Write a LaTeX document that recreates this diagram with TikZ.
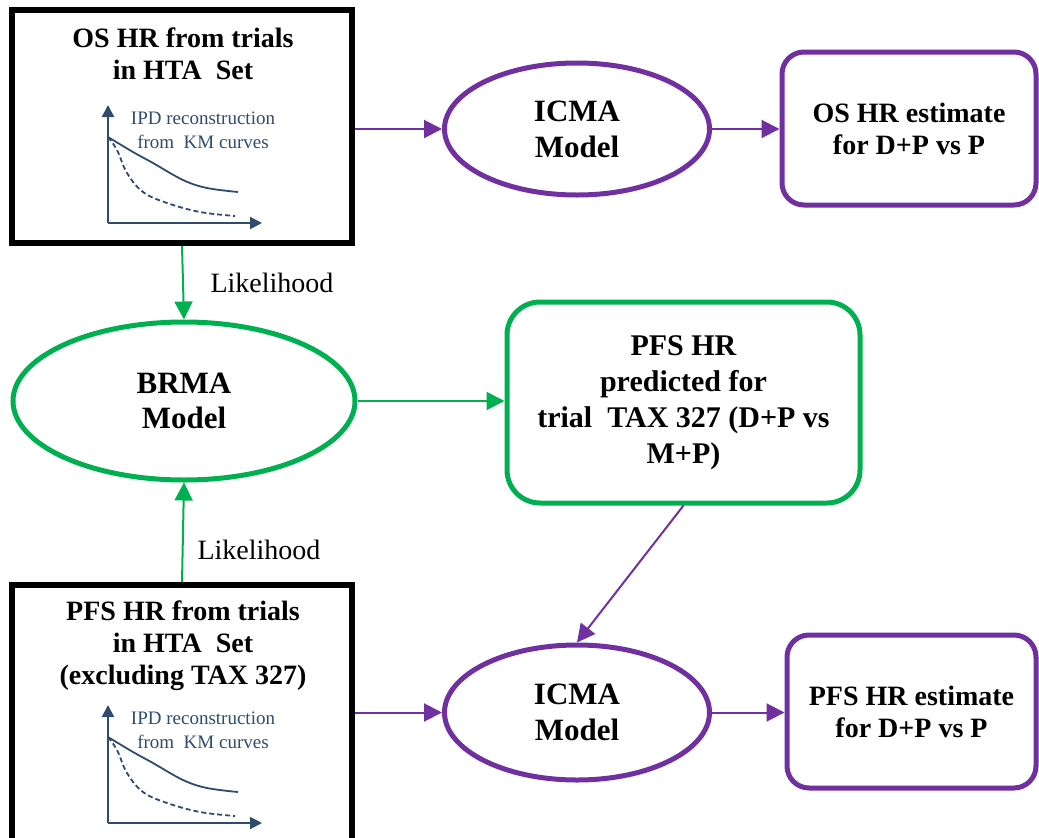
\documentclass[tikz,border=0pt]{standalone}
\usepackage{fontspec}
\setmainfont{Liberation Serif}
\usetikzlibrary{arrows.meta,shapes.geometric}
\definecolor{icpurple}{HTML}{7030A0}
\definecolor{icgreen}{HTML}{00B050}
\definecolor{kmnavy}{HTML}{2F4B6E}
\begin{document}
\begin{tikzpicture}[x=1pt,y=-1pt,
  srcbox/.style={draw=black,line width=6pt,rectangle,inner sep=0pt},
  titletext/.style={align=center,font=\fontsize{28}{32}\selectfont\bfseries,inner sep=0pt},
  modelpurple/.style={ellipse,draw=icpurple,line width=5pt,inner sep=0pt,align=center,font=\fontsize{31}{36}\selectfont\bfseries},
  modelgreen/.style={ellipse,draw=icgreen,line width=5pt,inner sep=0pt,align=center,font=\fontsize{31}{35}\selectfont\bfseries},
  resbox/.style={rectangle,rounded corners=22pt,draw=icpurple,line width=5pt,inner sep=0pt,align=center,font=\fontsize{28}{32}\selectfont\bfseries},
  predbox/.style={rectangle,rounded corners=33pt,draw=icgreen,line width=5pt,inner sep=0pt,align=center,font=\fontsize{30}{36}\selectfont\bfseries},
  parrow/.style={draw=icpurple,line width=2pt,-{Triangle[length=18pt,width=18pt]}},
  garrow/.style={draw=icgreen,line width=2pt,-{Triangle[length=18pt,width=18pt]}},
  liktext/.style={font=\fontsize{28}{32}\selectfont,inner sep=0pt},
  kmtext/.style={align=center,font=\fontsize{19}{24}\selectfont,text=kmnavy,inner sep=0pt},
  kmaxis/.style={draw=kmnavy,line width=2pt,-{Triangle[length=12pt,width=12pt]}},
  kmcurve/.style={draw=kmnavy,line width=1.8pt}
]
\useasboundingbox (0,0) rectangle (1039,838);
\fill[white] (0,0) rectangle (1039,838);

% source boxes
\node[srcbox,minimum width=340,minimum height=233] (osbox) at (182,126.5) {};
\node[titletext] (ostitle) at (183,54) {OS HR from trials\\in HTA\ \ Set};
\node[srcbox,minimum width=340,minimum height=275] (pfsbox) at (182,722.5) {};
\node[titletext] (pfstitle) at (183,646) {PFS HR from trials\\in HTA\ \ Set\\(excluding TAX 327)};

% KM mini charts
\foreach \dy/\nm in {0/a,600/b}{
  \begin{scope}[yshift=-\dy pt]
    \coordinate (orig\nm) at (108,223);
    \coordinate (ytip\nm) at (108,105);
    \coordinate (xtip\nm) at (262,223);
    \draw[kmaxis] (orig\nm) -- (ytip\nm);
    \draw[kmaxis] (orig\nm) -- (xtip\nm);
    \draw[kmcurve] plot[smooth,tension=0.6] coordinates {(108,137) (133,152) (153,163) (183,180) (207,188) (238,192)};
    \draw[kmcurve,dash pattern=on 5pt off 3pt] plot[smooth,tension=0.6] coordinates {(108,137) (117,150) (127,173) (143,192) (167,203) (200,212) (235,216)};
    \node[kmtext] (kmlabel\nm) at (203,130) {IPD reconstruction\\from\ \ KM curves};
  \end{scope}
}

% models
\node[modelpurple,minimum width=265,minimum height=132] (icmaA) at (577,129) {ICMA\\Model};
\node[modelpurple,minimum width=265,minimum height=135] (icmaB) at (577,712.5) {ICMA\\Model};
\node[modelgreen,minimum width=342,minimum height=158] (brma) at (184,401) {BRMA\\Model};

% result boxes
\node[resbox,minimum width=254,minimum height=153] (osest) at (909,128.5) {OS HR estimate\\for D+P vs P};
\node[resbox,minimum width=249,minimum height=153] (pfsest) at (911.5,711.5) {PFS HR estimate\\for D+P vs P};
\node[predbox,minimum width=353,minimum height=201] (pred) at (683.5,402.5) {PFS HR\\predicted for\\trial\ \ TAX 327 (D+P vs\\M+P)};

% connectors
\draw[parrow] (osbox.east |- icmaA.west) -- (icmaA.west);
\draw[parrow] (icmaA.east) -- (osest.west |- icmaA.east);
\draw[parrow] (pfsbox.east |- icmaB.west) -- (icmaB.west);
\draw[parrow] (icmaB.east) -- (pfsest.west |- icmaB.east);
\draw[garrow] (osbox.south) -- (brma.north);
\draw[garrow] (pfsbox.north) -- (brma.south);
\draw[garrow] (brma.east) -- (pred.west |- brma.east);
\draw[parrow] (pred.south) -- (icmaB.north);

% labels
\node[liktext] (likA) at (272,283) {Likelihood};
\node[liktext] (likB) at (259,550) {Likelihood};
\end{tikzpicture}
\end{document}
